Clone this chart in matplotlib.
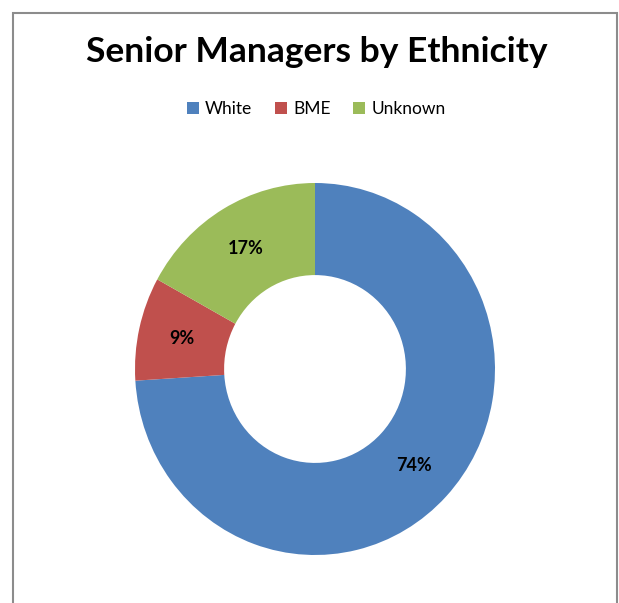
import matplotlib.pyplot as plt
from matplotlib.patches import Patch, Rectangle

plt.rcParams['font.family'] = ['Lato', 'DejaVu Sans']

groups = ['White', 'BME', 'Unknown']
shares = [74, 9, 17]
colors = ['#4F81BD', '#C0504D', '#9BBB59']

fig = plt.figure(figsize=(6.19, 6.03), dpi=100)

# outer chart border, runs off the bottom edge
fig.add_artist(Rectangle((13 / 619, -0.05), 604 / 619, 1.05 - 13 / 603,
                         transform=fig.transFigure, fill=False,
                         edgecolor='#8c8c8c', linewidth=1.5))

# ring is a touch taller than wide
ax = fig.add_axes([135 / 619, 48 / 603, 360 / 619, 372 / 603])
wedges, texts, autotexts = ax.pie(
    shares, colors=colors, startangle=90, counterclock=False,
    autopct='%d%%', pctdistance=0.755,
    wedgeprops=dict(width=0.495, edgecolor='none'),
    textprops=dict(fontsize=13, fontweight='bold', color='black'))
ax.set_aspect('auto')
ax.set_xlim(-1, 1)
ax.set_ylim(-1, 1)

fig.text(0.511, 1 - 52 / 603, 'Senior Managers by Ethnicity',
         ha='center', va='center', fontsize=25.5, fontweight='bold')

handles = [Patch(facecolor=c, edgecolor='none') for c in colors]
fig.legend(handles, groups, loc='center', bbox_to_anchor=(0.511, 1 - 109 / 603),
           ncol=3, frameon=False, fontsize=12.5, handlelength=0.7, handleheight=0.7,
           handletextpad=0.35, columnspacing=1.3)

fig.savefig('out.png', dpi=100)
